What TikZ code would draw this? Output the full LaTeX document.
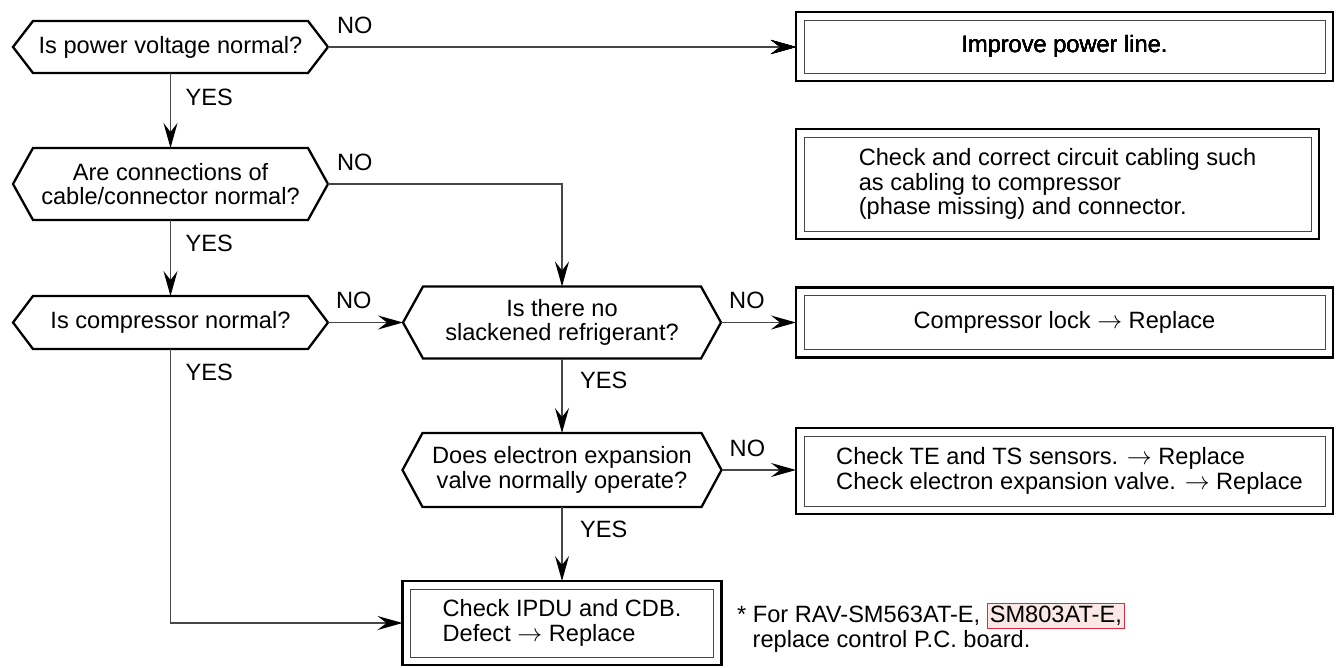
\documentclass[tikz,border=0pt]{standalone}
\usepackage{fontspec}
\setmainfont{Liberation Sans}
\usetikzlibrary{arrows.meta,positioning,calc}
\definecolor{lncolor}{RGB}{70,70,70}
\definecolor{hlfill}{RGB}{251,232,228}
\definecolor{hlline}{RGB}{222,40,70}
\setlength{\fboxsep}{2pt}
\setlength{\fboxrule}{1pt}
\newcommand{\hexout}[1]{%
  \draw[qline] ([xshift=20pt]#1.north west) -- ([xshift=-20pt]#1.north east) -- (#1.east)
    -- ([xshift=-20pt]#1.south east) -- ([xshift=20pt]#1.south west) -- (#1.west) -- cycle;
}
\newcommand{\inframe}[1]{%
  \draw[lncolor, line width=1pt] ([xshift=8pt,yshift=-8pt]#1.north west) rectangle ([xshift=-8pt,yshift=8pt]#1.south east);
}

\begin{document}
\begin{tikzpicture}[x=1pt, y=-1pt, font=\fontsize{23.6}{24.5}\selectfont,
    query/.style 2 args={minimum width=#1, minimum height=#2, inner sep=0pt, outer sep=0pt, align=center},
    act/.style 2 args={draw, line width=2.7pt, minimum width=#1, minimum height=#2, inner sep=0pt, outer sep=0pt, align=left},
    qline/.style={line width=2.3pt, line join=miter},
    conn/.style={lncolor, line width=1.2pt, -{Stealth[length=25pt, width=14pt, inset=9pt, black]}},
    lbl/.style={inner sep=0pt, anchor=base west}]
  \useasboundingbox (0,0) rectangle (1337,667);
  % questions
  \node[query={315pt}{52pt}] (qpow) at (170.5,47) {Is power voltage normal?};
  \node[query={315pt}{72pt}] (qcab) at (170.5,184) {Are connections of\\cable/connector normal?};
  \node[query={315pt}{53pt}] (qcomp) at (170.5,322.5) {Is compressor normal?};
  \node[query={318pt}{72pt}] (qref) at (562,322.5) {Is there no\\slackened refrigerant?};
  \node[query={319pt}{74pt}] (qvalve) at (562,470) {Does electron expansion\\valve normally operate?};
  \foreach \q in {qpow,qcab,qcomp,qref,qvalve} \hexout{\q}
  % actions
  \node[act={537pt}{69pt}] (apow) at (1064.5,46.5) {Improve power line.};
  \node[act={523pt}{110pt}] (acab) at (1057.5,184) {Check and correct circuit cabling such\\as cabling to compressor\\(phase missing) and connector.};
  \node[act={537pt}{70pt}] (alock) at (1064.5,322.5) {Compressor lock $\rightarrow$ Replace};
  \node[act={537pt}{86pt}] (asens) at (1064.5,471) {\hspace*{10pt}Check TE and TS sensors. $\rightarrow$ Replace\\\hspace*{10pt}Check electron expansion valve. $\rightarrow$ Replace};
  \node[act={319pt}{84pt}] (aipdu) at (562,623) {Check IPDU and CDB.\\Defect $\rightarrow$ Replace};
  \foreach \a in {apow,acab,alock,asens,aipdu} \inframe{\a}
  % connectors
  \draw[conn] (qpow.east) -- (qpow.east -| apow.west);
  \draw[conn] (qpow.south) -- (qcab.north);
  \draw[conn] (qcab.east) -| (qref.north);
  \draw[conn] (qcab.south) -- (qcomp.north);
  \draw[conn] (qcomp.east) -- (qref.west);
  \draw[conn] (qcomp.south) |- (aipdu.west);
  \draw[conn] (qref.east) -- (qref.east -| alock.west);
  \draw[conn] (qref.south) -- (qvalve.north);
  \draw[conn] (qvalve.east) -- (qvalve.east -| asens.west);
  \draw[conn] (qvalve.south) -- (aipdu.north);
  % NO / YES
  \node[lbl] (no1) at ([xshift=9pt,yshift=14pt]qpow.east) {NO};
  \node[lbl] (no2) at ([xshift=9pt,yshift=14pt]qcab.east) {NO};
  \node[lbl] (no3) at ([xshift=8pt,yshift=14pt]qcomp.east) {NO};
  \node[lbl] (no4) at ([xshift=8pt,yshift=14pt]qref.east) {NO};
  \node[lbl] (no5) at ([xshift=8pt,yshift=14pt]qvalve.east) {NO};
  \node[lbl] (yes1) at ([xshift=15pt,yshift=-32pt]qpow.south) {YES};
  \node[lbl] (yes2) at ([xshift=15pt,yshift=-31pt]qcab.south) {YES};
  \node[lbl] (yes3) at ([xshift=15pt,yshift=-31pt]qcomp.south) {YES};
  \node[lbl] (yes4) at ([xshift=18pt,yshift=-30pt]qref.south) {YES};
  \node[lbl] (yes5) at ([xshift=18pt,yshift=-30pt]qvalve.south) {YES};
  % footnote
  \node[lbl, align=left] (note) at (737,647) {* For RAV-SM563AT-E, \fcolorbox{hlline}{hlfill}{SM803AT-E,}\\\hspace*{15.5pt}replace control P.C. board.};
\end{tikzpicture}
\end{document}
